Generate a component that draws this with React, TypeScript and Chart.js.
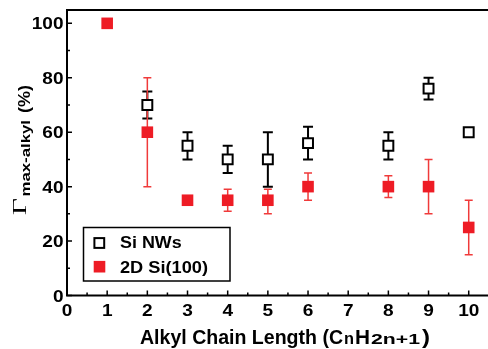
import { useEffect, useRef } from 'react';
import { Chart, registerables } from 'chart.js';

Chart.register(...registerables);

// ---- data ----
const nwX = [2, 3, 4, 5, 6, 8, 9, 10];
const nwY = [70, 55, 50, 50, 56, 55, 76, 60];
const nwErrUp = [5, 5, 5, 10, 6, 5, 4, 0];
const nwErrDown = [5, 5, 5, 10, 6, 5, 4, 0];

const siX = [1, 2, 3, 4, 5, 6, 8, 9, 10];
const siY = [100, 60, 35, 35, 35, 40, 40, 40, 25];
const siErrUp = [0, 20, 1, 4, 4, 5, 4, 10, 10];
const siErrDown = [0, 20, 1, 4, 5, 5, 4, 10, 10];

const seriesNames = ['Si NWs', '2D Si(100)'];

const xTicks = [0, 1, 2, 3, 4, 5, 6, 7, 8, 9, 10];
const xMinorTicks = [0.5, 1.5, 2.5, 3.5, 4.5, 5.5, 6.5, 7.5, 8.5, 9.5];
const yTicks = [0, 20, 40, 60, 80, 100];
const yMinorTicks = [10, 30, 50, 70, 90];

const X_MIN = 0;
const X_MAX = 10.48;
const Y_MIN = 0;
const Y_MAX = 104.9;

const RED = '#ee1c25';
const RED_BAR = '#f03a3a';
const SANS = "'Liberation Sans', Arial, sans-serif";
const SERIF = "'Liberation Serif', 'Times New Roman', serif";

function fitText(ctx: CanvasRenderingContext2D, text: string, font: string, x0: number, x1: number, y: number) {
  ctx.save();
  ctx.font = font;
  const w = ctx.measureText(text).width;
  const s = (x1 - x0) / w;
  ctx.translate(x0, y);
  ctx.scale(s, 1);
  ctx.textAlign = 'left';
  ctx.textBaseline = 'alphabetic';
  ctx.fillText(text, 0, 0);
  ctx.restore();
}

const errorBarPlugin = {
  id: 'errorBars',
  beforeDatasetsDraw(chart: any) {
    const ctx = chart.ctx as CanvasRenderingContext2D;
    const xs = chart.scales.x;
    const ys = chart.scales.y;
    chart.data.datasets.forEach((ds: any) => {
      ctx.save();
      ctx.strokeStyle = ds.errColor;
      ctx.lineWidth = ds.errWidth;
      ds.data.forEach((p: any, i: number) => {
        const up = ds.errUp[i];
        const down = ds.errDown[i];
        if (!up && !down) return;
        const px = xs.getPixelForValue(p.x);
        const pt = ys.getPixelForValue(p.y + up);
        const pb = ys.getPixelForValue(p.y - down);
        const c = ds.capHalf;
        ctx.beginPath();
        ctx.moveTo(px, pt);
        ctx.lineTo(px, pb);
        ctx.moveTo(px - c, pt);
        ctx.lineTo(px + c, pt);
        ctx.moveTo(px - c, pb);
        ctx.lineTo(px + c, pb);
        ctx.stroke();
      });
      ctx.restore();
    });
  },
};

const decorPlugin = {
  id: 'decor',
  afterDraw(chart: any) {
    const ctx = chart.ctx as CanvasRenderingContext2D;
    const xs = chart.scales.x;
    const ys = chart.scales.y;
    const area = chart.chartArea;
    const L = area.left;
    const B = area.bottom;
    const T = area.top;
    const R = chart.width;
    ctx.save();
    ctx.strokeStyle = '#000';
    ctx.fillStyle = '#000';
    ctx.lineWidth = 2;
    // frame
    ctx.beginPath();
    ctx.moveTo(L, T);
    ctx.lineTo(R, T);
    ctx.moveTo(L, T - 1);
    ctx.lineTo(L, B + 1);
    ctx.moveTo(L - 1, B);
    ctx.lineTo(R, B);
    ctx.stroke();
    // ticks (inward)
    ctx.lineWidth = 1.5;
    ctx.beginPath();
    xTicks.forEach((v) => {
      const px = xs.getPixelForValue(v);
      ctx.moveTo(px, B);
      ctx.lineTo(px, B - 5);
    });
    xMinorTicks.forEach((v) => {
      const px = xs.getPixelForValue(v);
      ctx.moveTo(px, B);
      ctx.lineTo(px, B - 3);
    });
    yTicks.forEach((v) => {
      const py = ys.getPixelForValue(v);
      ctx.moveTo(L, py);
      ctx.lineTo(L + 5, py);
    });
    yMinorTicks.forEach((v) => {
      const py = ys.getPixelForValue(v);
      ctx.moveTo(L, py);
      ctx.lineTo(L + 3, py);
    });
    ctx.stroke();

    // tick labels
    ctx.font = `bold 17px ${SANS}`;
    xTicks.forEach((v) => {
      const px = xs.getPixelForValue(v);
      ctx.save();
      ctx.translate(px, 315.7);
      ctx.scale(1.12, 1);
      ctx.textAlign = 'center';
      ctx.textBaseline = 'alphabetic';
      ctx.fillText(String(v), 0, 0);
      ctx.restore();
    });
    yTicks.forEach((v) => {
      const py = ys.getPixelForValue(v);
      ctx.save();
      ctx.translate(63.5, py + 6);
      ctx.scale(1.12, 1);
      ctx.textAlign = 'right';
      ctx.textBaseline = 'alphabetic';
      ctx.fillText(String(v), 0, 0);
      ctx.restore();
    });

    // x title
    const by = 344;
    fitText(ctx, 'Alkyl Chain Length (C', `bold 21px ${SANS}`, 140, 343, by);
    fitText(ctx, 'n', `bold 16px ${SANS}`, 344, 354, by);
    fitText(ctx, 'H', `bold 21px ${SANS}`, 355, 370, by);
    fitText(ctx, '2n+1', `bold 15px ${SANS}`, 371, 420, by);
    fitText(ctx, ')', `bold 21px ${SANS}`, 422, 430, by);

    // y title (rotated)
    ctx.save();
    ctx.translate(25.7, 215);
    ctx.rotate(-Math.PI / 2);
    fitText(ctx, '\u0393', `18px ${SERIF}`, 0, 17, 0);
    fitText(ctx, 'max-alkyl', `bold 13.5px ${SANS}`, 18.5, 95, 4.3);
    fitText(ctx, '(%)', `bold 16px ${SANS}`, 102, 130, 4.3);
    ctx.restore();

    // legend
    ctx.lineWidth = 1.5;
    ctx.fillStyle = '#fff';
    ctx.fillRect(83.5, 227.5, 146.5, 53.5);
    ctx.strokeRect(83.5, 227.5, 146.5, 53.5);
    ctx.lineWidth = 2;
    ctx.strokeStyle = '#000';
    ctx.strokeRect(99.3 - 4.9, 243 - 4.9, 9.8, 9.8);
    ctx.fillStyle = RED;
    ctx.fillRect(99.5 - 5.8, 266.7 - 5.8, 11.6, 11.6);
    ctx.fillStyle = '#000';
    fitText(ctx, seriesNames[0], `bold 16px ${SANS}`, 120, 181.7, 248.3);
    fitText(ctx, seriesNames[1], `bold 16px ${SANS}`, 120, 208, 272.7);
    ctx.restore();
  },
};

export default function App() {
  const canvasRef = useRef<HTMLCanvasElement | null>(null);

  useEffect(() => {
    document.body.style.margin = '0';
    const canvas = canvasRef.current;
    if (!canvas) return;
    const chart = new Chart(canvas, {
      type: 'scatter',
      data: {
        datasets: [
          {
            label: seriesNames[0],
            data: nwX.map((x, i) => ({ x, y: nwY[i] })),
            pointStyle: 'rect',
            pointRadius: 7,
            pointHoverRadius: 7,
            borderColor: '#000',
            backgroundColor: '#fff',
            borderWidth: 2,
            showLine: false,
            clip: false,
            errUp: nwErrUp,
            errDown: nwErrDown,
            errColor: '#000',
            errWidth: 2,
            capHalf: 5,
          } as any,
          {
            label: seriesNames[1],
            data: siX.map((x, i) => ({ x, y: siY[i] })),
            pointStyle: 'rect',
            pointRadius: 8.2,
            pointHoverRadius: 8.2,
            borderColor: RED,
            backgroundColor: RED,
            borderWidth: 0,
            showLine: false,
            clip: false,
            errUp: siErrUp,
            errDown: siErrDown,
            errColor: RED_BAR,
            errWidth: 1.5,
            capHalf: 4,
          } as any,
        ],
      },
      options: {
        animation: false,
        responsive: false,
        devicePixelRatio: 1,
        events: [],
        layout: { padding: { top: 10, left: 0, right: 0, bottom: 0 }, autoPadding: false },
        plugins: { legend: { display: false }, tooltip: { enabled: false } },
        scales: {
          x: {
            type: 'linear',
            min: X_MIN,
            max: X_MAX,
            bounds: 'data',
            grid: { display: false, drawTicks: false },
            border: { display: false },
            ticks: { display: false },
            afterBuildTicks: (s: any) => {
              s.ticks = xTicks.map((v) => ({ value: v }));
              s.min = X_MIN;
              s.max = X_MAX;
            },
            afterFit: (s: any) => {
              s.height = 53.5;
            },
          },
          y: {
            type: 'linear',
            min: Y_MIN,
            max: Y_MAX,
            bounds: 'data',
            grid: { display: false, drawTicks: false },
            border: { display: false },
            ticks: { display: false },
            afterBuildTicks: (s: any) => {
              s.ticks = yTicks.map((v) => ({ value: v }));
              s.min = Y_MIN;
              s.max = Y_MAX;
            },
            afterFit: (s: any) => {
              s.width = 67;
            },
          },
        },
      },
      plugins: [errorBarPlugin, decorPlugin],
    });
    return () => chart.destroy();
  }, []);

  return (
    <div style={{ position: 'absolute', left: 0, top: 0, width: 488, height: 349, background: '#fff' }}>
      <canvas ref={canvasRef} width={488} height={349} style={{ display: 'block' }} />
    </div>
  );
}
